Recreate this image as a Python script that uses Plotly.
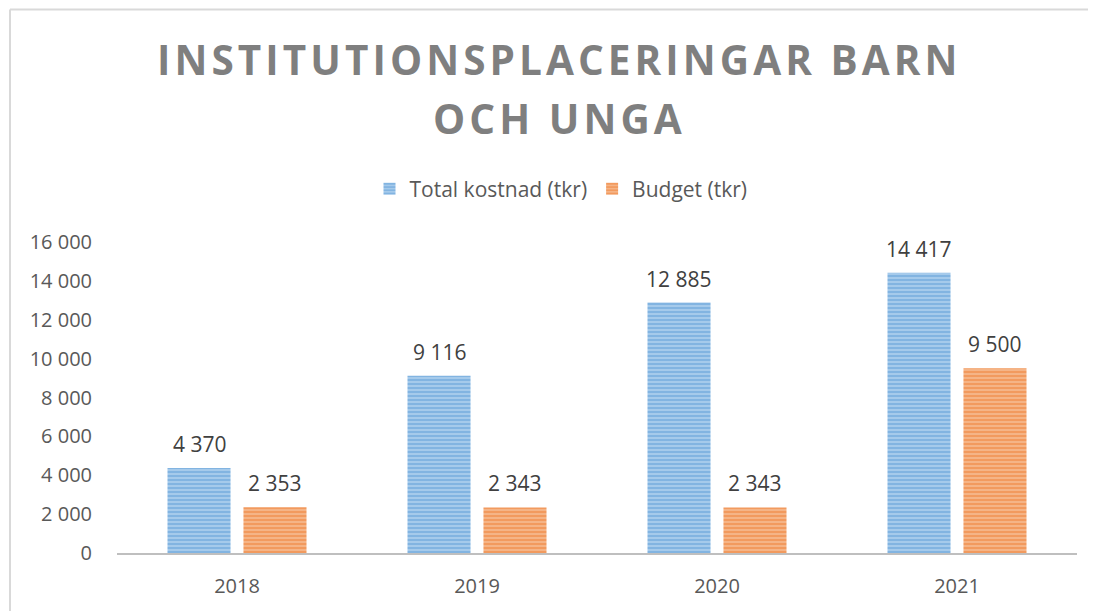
import plotly.graph_objects as go

years = ["2018", "2019", "2020", "2021"]
total_kostnad = [4370, 9116, 12885, 14417]
budget = [2353, 2343, 2343, 9500]
series_names = ["Total kostnad (tkr)", "Budget (tkr)"]
title_lines = ["INSTITUTIONSPLACERINGAR BARN", "OCH UNGA"]
y_ticks = [0, 2000, 4000, 6000, 8000, 10000, 12000, 14000, 16000]

# page body has an 8px margin, so the figure is drawn 8px smaller and offset
OFF = 8
W, H = 1096 - OFF, 611 - OFF
L, R, T, B = 117 - OFF, 19, 242 - OFF, 58
BARGAP, GROUPGAP = 0.367, 0.17

def spaced(s):
    return "\u200a".join(s)

pw = W - L - R
ph = H - T - B
def px(x):  # screen x -> paper
    return (x - OFF - L) / pw
def py(y):  # screen y -> paper
    return (H - B - (y - OFF)) / ph

FONT = "Open Sans"

fig = go.Figure()
fig.add_trace(go.Bar(
    x=years, y=total_kostnad, name=series_names[0],
    marker=dict(color="#9DC3E6", line=dict(width=0),
                pattern=dict(shape="-", fgcolor="#5B9BD5", bgcolor="#A9CCEC", size=4, solidity=0.55)),
))
fig.add_trace(go.Bar(
    x=years, y=budget, name=series_names[1],
    marker=dict(color="#F4B183", line=dict(width=0),
                pattern=dict(shape="-", fgcolor="#ED7D31", bgcolor="#F6B68A", size=4, solidity=0.55)),
))

# value labels placed above each bar (category index + shift of half a group slot)
cat_px = pw / len(years)
slot_px = cat_px * (1 - BARGAP) / 2
annotations = []
for vals, sgn in ((total_kostnad, -1), (budget, 1)):
    for i, v in enumerate(vals):
        annotations.append(dict(
            x=i, y=v, xref="x", yref="y", text=f"{v:,}".replace(",", " "),
            showarrow=False, xanchor="center", yanchor="middle",
            xshift=sgn * slot_px / 2, yshift=24,
            font=dict(family=FONT, size=21, color="#404040")))

annotations += [
    dict(text="<b>" + spaced(title_lines[0]) + "</b>", xref="paper", yref="paper",
         x=px(557), y=py(59.5), xanchor="center", yanchor="middle", showarrow=False,
         font=dict(family=FONT, size=40.5, color="#7F7F7F")),
    dict(text="<b>" + spaced(title_lines[1]) + "</b>", xref="paper", yref="paper",
         x=px(557), y=py(118), xanchor="center", yanchor="middle", showarrow=False,
         font=dict(family=FONT, size=40.5, color="#7F7F7F")),
]

fig.update_layout(
    width=W, height=H,
    margin=dict(l=L, r=R, t=T, b=B, autoexpand=False),
    paper_bgcolor="white", plot_bgcolor="white",
    separators=", ",
    barmode="group", bargap=BARGAP, bargroupgap=GROUPGAP,
    showlegend=True,
    legend=dict(orientation="h", x=(561 - OFF) / W, xanchor="center", xref="container",
                y=(H - (189 - OFF)) / H, yanchor="middle", yref="container",
                font=dict(family=FONT, size=21, color="#595959"),
                itemwidth=30, traceorder="normal"),
    xaxis=dict(type="category", range=[-0.5, len(years) - 0.5],
               showgrid=False, showline=True, linecolor="#BFBFBF", linewidth=2,
               ticks="", ticklabelstandoff=14,
               tickfont=dict(family=FONT, size=20, color="#595959"),
               zeroline=False),
    yaxis=dict(range=[0, 16000], tickvals=y_ticks, tickformat=",d", showgrid=False,
               showline=False, zeroline=False, ticks="", ticklabelstandoff=24,
               tickfont=dict(family=FONT, size=20, color="#595959")),
    font=dict(family=FONT, color="#595959"),
    annotations=annotations,
    shapes=[
        dict(type="line", xref="paper", yref="paper", x0=px(10), x1=px(1095), y0=py(9.5), y1=py(9.5),
             line=dict(color="#D9D9D9", width=2)),
        dict(type="line", xref="paper", yref="paper", x0=px(10), x1=px(10), y0=py(9.5), y1=py(611),
             line=dict(color="#D9D9D9", width=2)),
    ],
)

fig.write_html("out.html")
